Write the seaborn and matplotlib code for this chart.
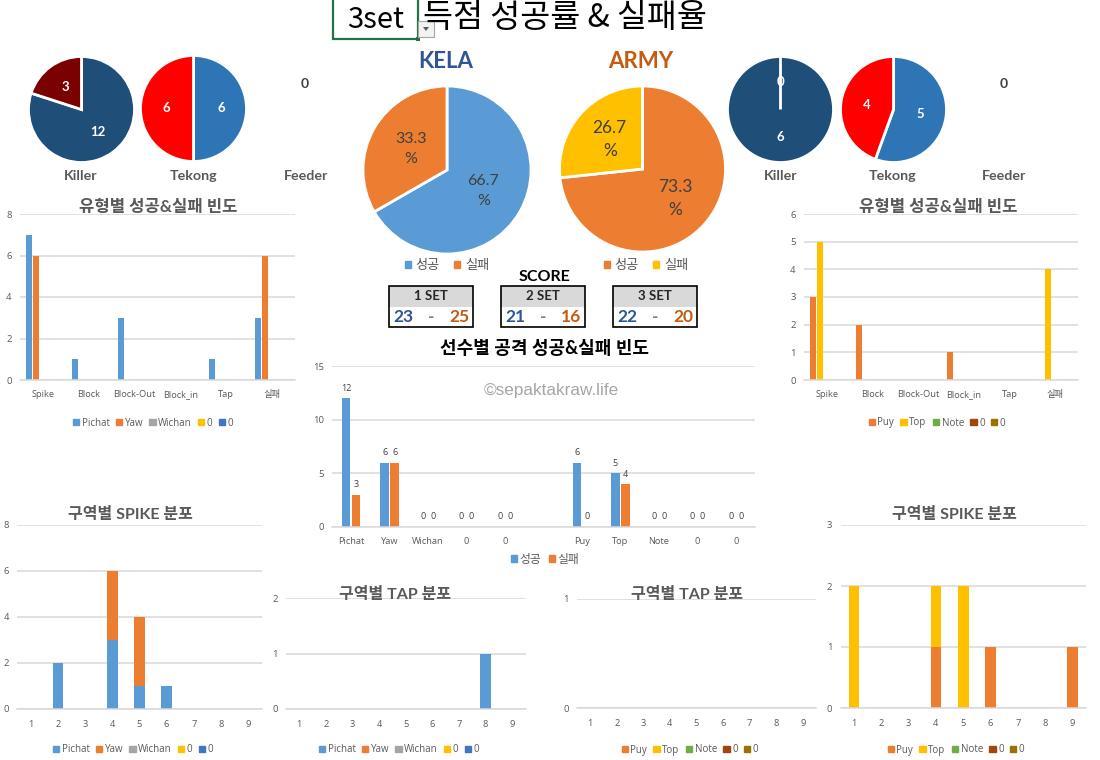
import numpy as np
import pandas as pd
import matplotlib
matplotlib.use("Agg")
import matplotlib.pyplot as plt
from matplotlib.patches import Patch, Rectangle, Polygon
import seaborn as sns

# ─── DATA ───────────────────────────────────────────────────────────────────
TYPES = ["Spike", "Block", "Block-Out", "Block_in", "Tap", "실패"]
ZONES = [1, 2, 3, 4, 5, 6, 7, 8, 9]

KELA_NAMES = ["Pichat", "Yaw", "Wichan", "0", "0"]
ARMY_NAMES = ["Puy", "Top", "Note", "0", "0"]

KELA_TYPE = [
    [7, 1, 3, 0, 1, 3],
    [6, 0, 0, 0, 0, 6],
    [0, 0, 0, 0, 0, 0],
    [0, 0, 0, 0, 0, 0],
    [0, 0, 0, 0, 0, 0],
]
ARMY_TYPE = [
    [3, 2, 0, 1, 0, 0],
    [5, 0, 0, 0, 0, 4],
    [0, 0, 0, 0, 0, 0],
    [0, 0, 0, 0, 0, 0],
    [0, 0, 0, 0, 0, 0],
]

KELA_SPIKE = [
    [0, 2, 0, 3, 1, 1, 0, 0, 0],
    [0, 0, 0, 3, 3, 0, 0, 0, 0],
]
ARMY_SPIKE = [
    [0, 0, 0, 1, 0, 1, 0, 0, 1],
    [2, 0, 0, 1, 2, 0, 0, 0, 0],
]
KELA_TAP = [
    [0, 0, 0, 0, 0, 0, 0, 1, 0],
    [0, 0, 0, 0, 0, 0, 0, 0, 0],
]
ARMY_TAP = [
    [0, 0, 0, 0, 0, 0, 0, 0, 0],
    [0, 0, 0, 0, 0, 0, 0, 0, 0],
]

PLAYERS = ["Pichat", "Yaw", "Wichan", "0", "0", "", "Puy", "Top", "Note", "0", "0"]
PLAYER_OK = [12, 6, 0, 0, 0, None, 6, 5, 0, 0, 0]
PLAYER_FAIL = [3, 6, 0, 0, 0, None, 0, 4, 0, 0, 0]

KELA_RATE = [66.7, 33.3]
ARMY_RATE = [73.3, 26.7]
KELA_KILLER = [12, 3]
KELA_TEKONG = [6, 6]
ARMY_KILLER = [6, 0]
ARMY_TEKONG = [5, 4]

SET_NAMES = ["1 SET", "2 SET", "3 SET"]
KELA_SCORE = [23, 21, 22]
ARMY_SCORE = [25, 16, 20]

# ─── STYLE ──────────────────────────────────────────────────────────────────
W, H = 1100, 760
BLUE, ORANGE, GRAY, YELLOW, INDIGO = "#5b9bd5", "#ed7d31", "#a5a5a5", "#ffc000", "#4472c4"
GREEN, BROWN, OLIVE = "#70ad47", "#9e480e", "#997300"
KELA_COLORS = [BLUE, ORANGE, GRAY, YELLOW, INDIGO]
ARMY_COLORS = [ORANGE, YELLOW, GREEN, BROWN, OLIVE]
GRID = "#d9d9d9"
TEXT = "#595959"
TEAM_BLUE = "#2f5597"
TEAM_ORANGE = "#c55a11"

sns.set_theme(style="white")
plt.rcParams["font.family"] = ["Open Sans", "Noto Sans CJK KR", "DejaVu Sans"]
BOLD = ["Lato", "Noto Sans CJK KR", "DejaVu Sans"]

fig = plt.figure(figsize=(W / 100, H / 100), dpi=100, facecolor="white")
overlay = fig.add_axes([0, 0, 1, 1], zorder=5)
overlay.set_xlim(0, W)
overlay.set_ylim(H, 0)
overlay.set_axis_off()


# ─── HELPERS ────────────────────────────────────────────────────────────────

def px_axes(x0, y0, x1, y1):
    return fig.add_axes([x0 / W, 1 - y1 / H, (x1 - x0) / W, (y1 - y0) / H])


def label(x, y, s, size, color=TEXT, weight="bold", family=BOLD):
    overlay.text(x, y + 1, s, fontsize=size, color=color, fontweight=weight,
                 family=family, ha="center", va="center")


def legend(x, y, names, colors, size=7, spacing=0.65, handle=0.65, textpad=0.25):
    handles = [Patch(color=c, label=n) for n, c in zip(names, colors)]
    fig.legend(handles=handles, loc="center", bbox_to_anchor=(x, y),
               bbox_transform=overlay.transData, ncol=len(names), frameon=False,
               fontsize=size, labelcolor=TEXT, handlelength=handle, handleheight=handle,
               handletextpad=textpad, columnspacing=spacing, borderpad=0, borderaxespad=0)


def style_axes(ax, n, yticks, pad=12.5):
    ax.set_xlim(-0.5, n - 0.5)
    ax.set_ylim(0, yticks[-1])
    ax.set_yticks(yticks)
    ax.set_xlabel("")
    ax.set_ylabel("")
    ax.yaxis.grid(True, color=GRID, lw=1.1)
    ax.xaxis.grid(False)
    ax.set_axisbelow(True)
    sns.despine(ax=ax, left=True)
    ax.spines["bottom"].set_color(GRID)
    ax.spines["bottom"].set_linewidth(1.1)
    ax.tick_params(axis="y", length=0, labelsize=6.8, labelcolor=TEXT, pad=6)
    ax.tick_params(axis="x", length=0, labelsize=6.7, labelcolor=TEXT, pad=pad)
    plt.setp(ax.get_xticklabels(), va="baseline")


def type_chart(box, series, colors, yticks, minor=False):
    ax = px_axes(*box)
    df = pd.DataFrame([
        {"type": t, "series": i, "count": v}
        for i, vals in enumerate(series) for t, v in zip(TYPES, vals)
    ])
    sns.barplot(df, x="type", y="count", hue="series", order=TYPES, palette=colors,
                saturation=1, width=0.76, gap=0.13, linewidth=0, legend=False,
                errorbar=None, ax=ax)
    style_axes(ax, len(TYPES), yticks)
    if minor:
        ax.set_xticks(np.arange(-0.5, len(TYPES)), minor=True)
        ax.tick_params(axis="x", which="minor", length=3, color=GRID)
    return ax


def stack_chart(box, series, colors, yticks):
    ax = px_axes(*box)
    bottom = np.zeros(len(ZONES))
    for vals, c in zip(series, colors):
        sns.barplot(x=ZONES, y=vals, bottom=bottom, color=c, saturation=1,
                    width=0.39, linewidth=0, errorbar=None, ax=ax)
        bottom = bottom + np.array(vals)
    style_axes(ax, len(ZONES), yticks, pad=13)
    return ax


def pie(cx, cy, r, values, colors, fmt, size, color="white", dist=0.52, weight="bold", family=BOLD):
    pad = 1.02
    rr = r * pad
    ax = px_axes(cx - rr, cy - rr, cx + rr, cy + rr)
    labels = iter(values)
    _, _, autos = ax.pie(values, colors=colors, startangle=90, counterclock=False,
                         autopct=lambda _: fmt.format(next(labels)), pctdistance=dist,
                         wedgeprops={"edgecolor": "white", "linewidth": 2},
                         textprops={"fontsize": size, "color": color,
                                    "fontweight": weight, "family": family})
    for a in autos:
        a.set_linespacing(1.5)
    ax.set_xlim(-pad, pad)
    ax.set_ylim(-pad, pad)
    return ax


# ─── HEADER ─────────────────────────────────────────────────────────────────
overlay.add_patch(Rectangle((332.5, -2), 85, 41, fill=False, ec="#217346", lw=1.6, clip_on=False))
overlay.add_patch(Rectangle((415.5, 37), 4, 4, fc="#217346", ec="none"))
overlay.add_patch(Rectangle((418, 21), 16, 16, fc="#f2f2f2", ec="#a6a6a6", lw=0.8))
overlay.add_patch(Polygon([[423, 27], [429, 27], [426, 31]], fc="#595959", ec="none"))
label(376, 19, "3set", 21, color="black", weight="normal", family=["Noto Sans CJK KR"])
label(565, 17, "득점 성공률 & 실패율", 23.5, color="black", weight="normal", family=["Noto Sans CJK KR"])
label(446, 60, "KELA", 16, color=TEAM_BLUE)
label(641, 60, "ARMY", 16, color=TEAM_ORANGE)

# ─── PIES ───────────────────────────────────────────────────────────────────
pie(81.5, 109.5, 53, KELA_KILLER, ["#1f4e79", "#7b0000"], "{}", 9.5)
pie(193.5, 108.5, 53, KELA_TEKONG, ["#2e75b6", "#ff0000"], "{}", 9.5)
pie(780.5, 109.5, 53, ARMY_KILLER, ["#1f4e79", "#7b0000"], "{}", 9.5)
pie(893.5, 109.5, 53, ARMY_TEKONG, ["#2e75b6", "#ff0000"], "{}", 9.5)
pie(447, 170, 84, KELA_RATE, [BLUE, ORANGE], "{}\n%", 11.5, color="#404040", dist=0.5,
    weight="normal", family=["Lato"])
pie(642.5, 169, 83, ARMY_RATE, [ORANGE, YELLOW], "{}\n%", 12.5, color="#404040", dist=0.53,
    weight="normal", family=["Lato"])

for x, s in [(81, "Killer"), (194, "Tekong"), (306, "Feeder"),
             (781, "Killer"), (893, "Tekong"), (1004, "Feeder")]:
    label(x, 175, s, 10.3)
label(305, 83, "0", 10, color="#404040")
label(1004, 83, "0", 10, color="#404040")
legend(447, 266, ["성공", "실패"], [BLUE, ORANGE], size=9.5, spacing=1.1, handle=0.47, textpad=0.35)
legend(646, 265.5, ["성공", "실패"], [ORANGE, YELLOW], size=9.5, spacing=1.1, handle=0.47, textpad=0.35)

# ─── SCORE ──────────────────────────────────────────────────────────────────
label(544, 276, "SCORE", 11.5, color="black")
for x0, name, a, b in zip([389, 501, 613], SET_NAMES, KELA_SCORE, ARMY_SCORE):
    overlay.add_patch(Rectangle((x0, 286), 84, 20.5, fc=GRID, ec="none"))
    overlay.add_patch(Rectangle((x0, 286), 84, 41, fill=False, ec="black", lw=1.2))
    label(x0 + 42, 295, name, 9.5, color="#262626")
    label(x0 + 14, 316, str(a), 12.5, color=TEAM_BLUE)
    label(x0 + 42, 316, "-", 12.5, color="#7f7f7f")
    label(x0 + 70, 316, str(b), 12.5, color=TEAM_ORANGE)

# ─── TYPE CHARTS ────────────────────────────────────────────────────────────
type_chart((20, 214, 295, 380), KELA_TYPE, KELA_COLORS, [0, 2, 4, 6, 8])
label(158, 206, "유형별 성공&실패 빈도", 12)
legend(153, 423, KELA_NAMES, KELA_COLORS)

type_chart((804, 214, 1078, 380), ARMY_TYPE, ARMY_COLORS, [0, 1, 2, 3, 4, 5, 6], minor=True)
label(938, 206, "유형별 성공&실패 빈도", 12)
legend(937, 423, ARMY_NAMES, ARMY_COLORS)

# ─── PLAYER CHART ───────────────────────────────────────────────────────────
ax = px_axes(332, 366, 755, 527)
positions = list(range(len(PLAYERS)))
players = pd.DataFrame({
    "pos": positions * 2,
    "result": ["성공"] * len(PLAYERS) + ["실패"] * len(PLAYERS),
    "count": pd.to_numeric(pd.Series(PLAYER_OK + PLAYER_FAIL)),
})
sns.barplot(players, x="pos", y="count", hue="result", order=positions, palette=[BLUE, ORANGE],
            saturation=1, width=0.52, gap=0.15, linewidth=0, legend=False, errorbar=None, ax=ax)
ax.set_xticks(positions)
ax.set_xticklabels(PLAYERS)
style_axes(ax, len(PLAYERS), [0, 5, 10, 15])
for cont in ax.containers:
    ax.bar_label(cont, fmt="%g", fontsize=6.5, color="#404040", padding=4)
label(544, 347, "선수별 공격 성공&실패 빈도", 13, color="black")
label(551, 389, "©sepaktakraw.life", 12.3, color="#a6a6a6", weight="normal", family=["Liberation Sans"])
legend(545, 559.5, ["성공", "실패"], [BLUE, ORANGE], size=8.5, spacing=0.6, handle=0.55, textpad=0.2)

# ─── ZONE CHARTS ────────────────────────────────────────────────────────────
stack_chart((17.5, 525, 261.5, 709), KELA_SPIKE, KELA_COLORS, [0, 2, 4, 6, 8])
label(130, 513, "구역별 SPIKE 분포", 11.5)
legend(133, 750, KELA_NAMES, KELA_COLORS)

stack_chart((286, 598, 525.5, 709), KELA_TAP, KELA_COLORS, [0, 1, 2])
label(395, 593, "구역별 TAP 분포", 11.5)
legend(399, 750, KELA_NAMES, KELA_COLORS)

stack_chart((577, 599, 816, 708), ARMY_TAP, ARMY_COLORS, [0, 1])
label(687, 593, "구역별 TAP 분포", 11.5)
legend(690, 750, ARMY_NAMES, ARMY_COLORS)

stack_chart((840.5, 525, 1086, 708), ARMY_SPIKE, ARMY_COLORS, [0, 1, 2, 3])
label(954, 513, "구역별 SPIKE 분포", 11.5)
legend(956, 750, ARMY_NAMES, ARMY_COLORS)

fig.savefig("out.png", dpi=100)
plt.close(fig)
